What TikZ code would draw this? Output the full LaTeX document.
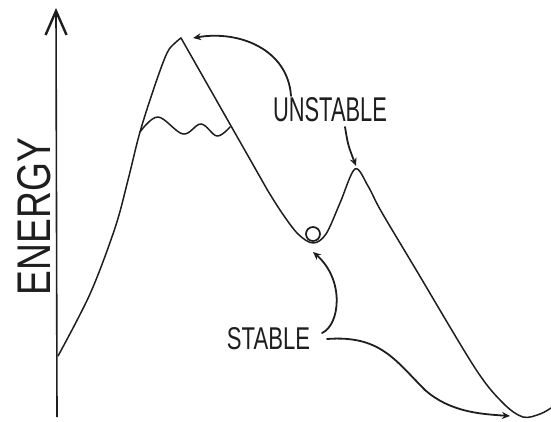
\documentclass[tikz,border=0pt]{standalone}
\usepackage{fontspec}
\usepackage{graphicx}
\setmainfont{Liberation Sans}
\usetikzlibrary{arrows.meta}
\definecolor{ink}{HTML}{1E1E1E}
\tikzset{
  curve/.style={draw=ink, line width=1.5pt, line cap=round, line join=round},
  note/.style={draw=ink, line width=1.8pt, line cap=round, -{Stealth[length=8pt,width=7pt,inset=2.5pt]}},
  lbl/.style={inner sep=0pt, text=ink},
}
\begin{document}
\begin{tikzpicture}[x=1pt,y=-1pt]
\useasboundingbox (0,0) rectangle (551,422);
% axis
\coordinate (axbot) at (57,417);
\coordinate (axtop) at (56,8);
\draw[draw=ink, line width=1.6pt, -{Straight Barb[length=24pt,width=21pt,line width=2.4pt]}] (axbot) -- (axtop);
% energy landscape
\coordinate (start) at (58,356);
\coordinate (peak1) at (181,38);
\coordinate (valley) at (313,243);
\coordinate (peak2) at (355,169);
\coordinate (minimum) at (523,417);
\draw[curve] plot[smooth, tension=0.55] coordinates {(58,356) (90,294) (115,228) (128,180) (140,132) (155,85) (167,53) (175,43) (181,38)};
\draw[curve] (181,38) -- (268,191) plot[smooth, tension=0.55] coordinates {(268,191) (282,213) (298,234) (313,243) (326,234) (340,203) (355,169) (368,186) (381,211) (415,268) (475,368) (503,403) (523,417) (540,414) (551,408)};
% snow line
\draw[curve] plot[smooth, tension=0.6] coordinates {(140,132) (158,117) (183,134) (201,124) (217,136) (230,127)};
% ball
\node[draw=ink, line width=1.7pt, circle, minimum size=14pt, inner sep=0pt] (ball) at (313,234) {};
% labels
\node[lbl] (unstable) at (330,110) {\resizebox{114pt}{24pt}{UNSTABLE}};
\node[lbl] (stable) at (268.5,338.5) {\resizebox{83pt}{22pt}{STABLE}};
\node[lbl, rotate=90] (energy) at (34.5,216.5) {\resizebox{157pt}{33pt}{ENERGY}};
% annotation arrows
\coordinate (u1) at (291,96);
\coordinate (t1) at (193,38);
\coordinate (u2) at (345,127);
\coordinate (t2) at (356,166);
\coordinate (s1) at (322,333);
\coordinate (t3) at (313,252);
\coordinate (s2) at (327,339);
\coordinate (t4) at (510,416);
\draw[note] (u1) .. controls (288,50) and (240,30) .. (t1);
\draw[note] (u2) .. controls (348,145) .. (t2);
\draw[note] (s1) .. controls (340,325) and (345,280) .. (t3);
\draw[note] (s2) .. controls (380,335) and (395,360) .. (425,390) .. controls (450,412) and (480,414) .. (t4);
\end{tikzpicture}
\end{document}
